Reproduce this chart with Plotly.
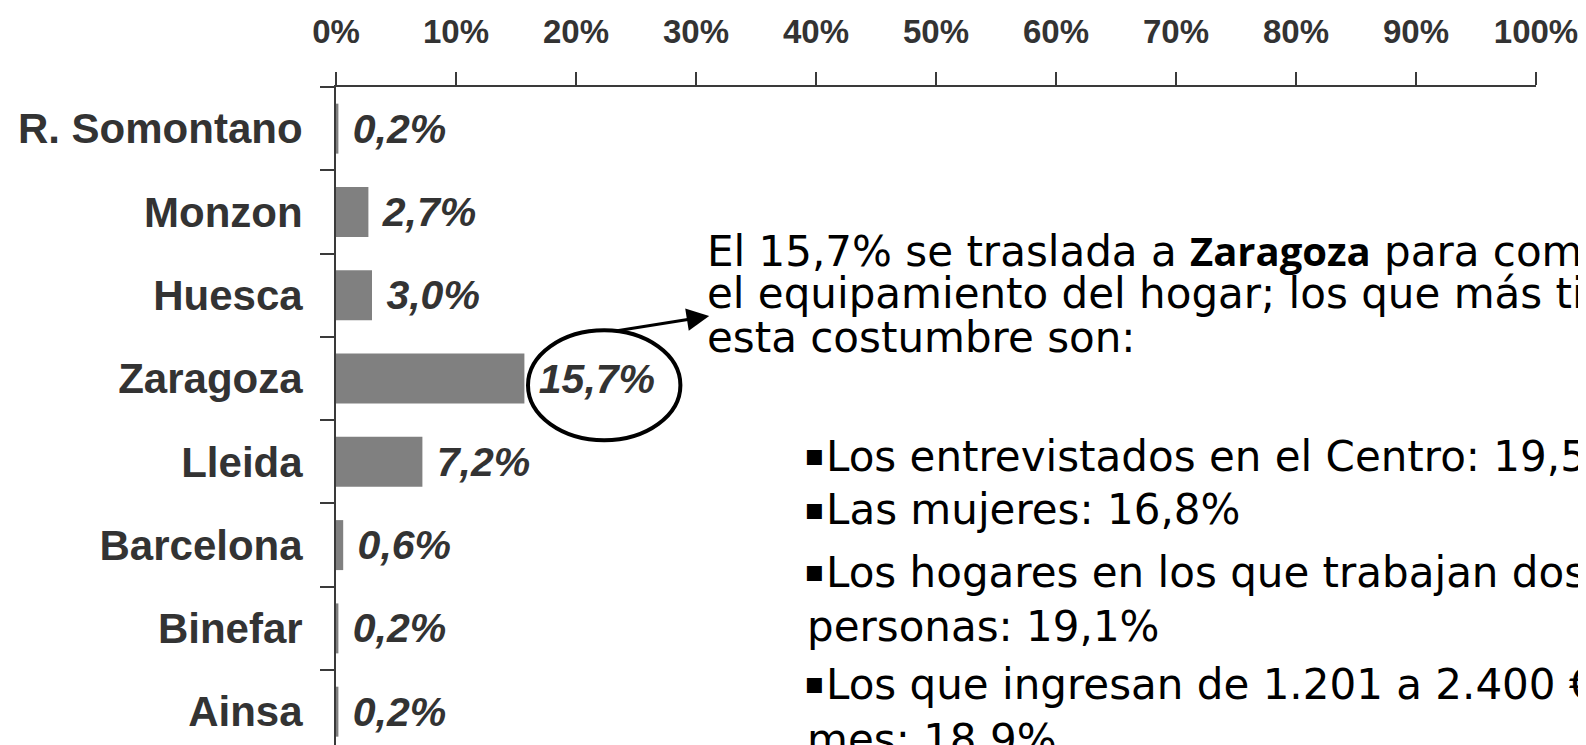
import plotly.graph_objects as go

# ---- data ----
categories = ["R. Somontano", "Monzon", "Huesca", "Zaragoza", "Lleida",
              "Barcelona", "Binefar", "Ainsa"]
values = [0.2, 2.7, 3.0, 15.7, 7.2, 0.6, 0.2, 0.2]
x_tickvals = [0, 10, 20, 30, 40, 50, 60, 70, 80, 90, 100]
x_ticktext = ["0%", "10%", "20%", "30%", "40%", "50%", "60%", "70%", "80%", "90%", "100%"]

intro_lines = [
    "El 15,7% se traslada a <b><span style='font-family:Open Sans;font-size:40px'>Zaragoza</span></b> para comprar",
    "el equipamiento del hogar; los que más tienen",
    "esta costumbre son:",
]
bullet_lines = [
    "Los entrevistados en el Centro: 19,5%",
    "Las mujeres: 16,8%",
    "Los hogares en los que trabajan dos",
    "personas: 19,1%",
    "Los que ingresan de 1.201 a 2.400 € al",
    "mes: 18,9%",
]
bullet_marks = [True, True, True, False, True, False]

# page is offset by the default 8px body margin
OFF = 8
W, H = 1586 - OFF, 745 - OFF
ML, MR, MT, MB = 336 - OFF, 50, 87 - OFF, 0
PW, PH = W - ML - MR, H - MT - MB

def px_x(px):  # page pixel -> paper
    return (px - OFF - ML) / PW

def px_y(py):
    return (H - MB - (py - OFF)) / PH

labels = ["\u00a0" + f"{v:.1f}%".replace(".", ",") for v in values]

fig = go.Figure(go.Bar(
    y=categories, x=values, orientation="h",
    marker=dict(color="#808080", line=dict(width=0)),
    width=0.6,
    text=labels, textposition="outside", constraintext="none", cliponaxis=False,
    textfont=dict(family="Liberation Sans, Arial, sans-serif", size=41,
                  color="#333333", weight="bold", style="italic"),
    hoverinfo="skip",
))

fig.update_xaxes(
    side="top", range=[0, 100], tickvals=x_tickvals, ticktext=x_ticktext,
    showline=True, linecolor="#3a3a3a", linewidth=2,
    ticks="outside", ticklen=13, tickwidth=2, tickcolor="#3a3a3a",
    showgrid=False, zeroline=False, ticklabelstandoff=16,
    tickfont=dict(family="Liberation Sans, Arial, sans-serif", size=33,
                  color="#333333", weight="bold"),
)
fig.update_yaxes(
    type="category", categoryorder="array", categoryarray=categories,
    range=[7.4, -0.5],
    showline=True, linecolor="#3a3a3a", linewidth=2,
    ticks="outside", ticklen=14, tickwidth=2, tickcolor="#3a3a3a",
    tickson="boundaries", showgrid=False, zeroline=False, ticklabelstandoff=23,
    tickfont=dict(family="Liberation Sans, Arial, sans-serif", size=42,
                  color="#333333", weight="bold"),
)

# highlight around Zaragoza's label
zi = categories.index("Zaragoza")
zv = values[zi]
fig.add_shape(type="circle", xref="x", yref="y",
              x0=zv + 0.3, x1=zv + 13.0, y0=zi - 0.58, y1=zi + 0.74,
              line=dict(color="black", width=4), fillcolor="rgba(0,0,0,0)")
fig.add_annotation(x=zv + 15.4, y=zi - 0.75, ax=zv + 7.6, ay=zi - 0.57,
                   xref="x", yref="y", axref="x", ayref="y",
                   text="", showarrow=True, arrowhead=2, arrowsize=1.5,
                   arrowwidth=3, arrowcolor="black")

txt_font = dict(family="DejaVu Sans, Verdana, sans-serif", size=42, color="black")
intro_centers = [250, 293, 337]
for line, c in zip(intro_lines, intro_centers):
    fig.add_annotation(x=px_x(705), y=px_y(c), xref="paper", yref="paper",
                       text=line, showarrow=False, xanchor="left", yanchor="middle",
                       align="left", font=txt_font)
bullet_centers = [456, 510, 572, 626, 684, 739]
for line, c, mark in zip(bullet_lines, bullet_centers, bullet_marks):
    if mark:
        fig.add_annotation(x=px_x(814), y=px_y(c - 2), xref="paper", yref="paper",
                           text="▪", showarrow=False, xanchor="center", yanchor="middle",
                           font=dict(family="DejaVu Sans", size=30, color="black"))
    fig.add_annotation(x=px_x(824 if mark else 805), y=px_y(c), xref="paper", yref="paper",
                       text=line, showarrow=False, xanchor="left", yanchor="middle",
                       align="left", font=txt_font)

fig.update_layout(
    width=W, height=H,
    margin=dict(l=ML, r=MR, t=MT, b=MB, autoexpand=False),
    paper_bgcolor="white", plot_bgcolor="white",
    showlegend=False, bargap=0.4,
)

fig.write_html("out.html")
